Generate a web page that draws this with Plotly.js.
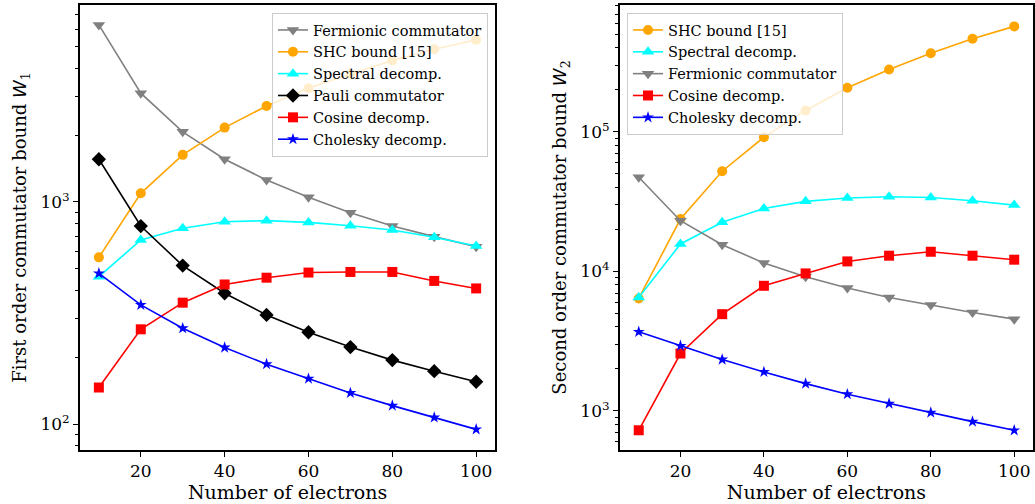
<!DOCTYPE html>
<html><head><meta charset="utf-8">
<script src="https://cdn.plot.ly/plotly-3.0.1.min.js"></script>
<style>html,body{margin:0;padding:0;background:#fff}</style>
</head><body><div id="chart" style="width:1035px;height:504px"></div>
<script>
const electrons = [10,20,30,40,50,60,70,80,90,100];

// First-order bound W1
const w1Fermionic = [6270,3090,2070,1557,1256,1050,895,779,698,629];
const w1SHC       = [563,1094,1630,2162,2704,3253,3773,4335,4875,5370];
const w1Spectral  = [461,674,761,815,824,809,782,748,693,634];
const w1Pauli     = [1557,779,517,388,310,259,222,194,173,155];
const w1Cosine    = [146,267,352,425,456,481,484,484,441,408];
const w1Cholesky  = [477,344,270,221,186,160,138,121,107,94.6];

// Second-order bound W2
const w2SHC       = [6400,23750,52300,91700,142600,207500,280500,367000,466000,571000];
const w2Spectral  = [6500,15730,22500,28300,31800,33600,34300,33900,32100,29900];
const w2Fermionic = [47300,23100,15550,11490,9170,7600,6510,5740,5080,4550];
const w2Cosine    = [727,2580,4940,7890,9680,11800,12970,13840,12970,12140];
const w2Cholesky  = [3690,2925,2335,1904,1570,1318,1129,973,838,726];

const xTicks = [20,40,60,80,100];
const y1MajorVals = [100,1000];
const y1MajorText = ['10<sup>2</sup>','10<sup>3</sup>'];
const y2MajorVals = [1000,10000,100000];
const y2MajorText = ['10<sup>3</sup>','10<sup>4</sup>','10<sup>5</sup>'];

function minorTicks(lo, hi){
  const out=[];
  for(let e=lo;e<=hi;e++){ for(let d=2;d<=9;d++){ out.push(d*Math.pow(10,e)); } }
  return out;
}

const FONT = 'DejaVu Serif, serif';
function tr(x,y,name,color,symbol,size,xa,ya,leg){
  return {x:x,y:y,name:name,type:'scatter',mode:'lines+markers',xaxis:xa,yaxis:ya,legend:leg,
    line:{color:color,width:1.6},marker:{color:color,symbol:symbol,size:size}};
}

const data = [
  tr(electrons,w1Fermionic,'Fermionic commutator','#808080','triangle-down',11,'x','y','legend'),
  tr(electrons,w1SHC,'SHC bound [15]','#FFA500','circle',10,'x','y','legend'),
  tr(electrons,w1Spectral,'Spectral decomp.','#00FFFF','triangle-up',11,'x','y','legend'),
  tr(electrons,w1Pauli,'Pauli commutator','#000000','diamond',11,'x','y','legend'),
  tr(electrons,w1Cosine,'Cosine decomp.','#FF0000','square',10,'x','y','legend'),
  tr(electrons,w1Cholesky,'Cholesky decomp.','#0000FF','star',9,'x','y','legend'),
  tr(electrons,w2SHC,'SHC bound [15]','#FFA500','circle',10,'x2','y2','legend2'),
  tr(electrons,w2Spectral,'Spectral decomp.','#00FFFF','triangle-up',11,'x2','y2','legend2'),
  tr(electrons,w2Fermionic,'Fermionic commutator','#808080','triangle-down',11,'x2','y2','legend2'),
  tr(electrons,w2Cosine,'Cosine decomp.','#FF0000','square',10,'x2','y2','legend2'),
  tr(electrons,w2Cholesky,'Cholesky decomp.','#0000FF','star',9,'x2','y2','legend2')
];

const tickFont = {family:FONT,size:17,color:'#000'};
const xTitleFont = {family:FONT,size:19,color:'#000'};
const yTitleFont = {family:FONT,size:18,color:'#000'};
function xaxis(domain, anchor){
  return {domain:domain,anchor:anchor,range:[5.5,104.5],tickmode:'array',tickvals:xTicks,
    ticks:'outside',ticklen:5,tickwidth:1,tickcolor:'#000',showline:true,linecolor:'#000',linewidth:2,
    mirror:true,showgrid:false,zeroline:false,tickfont:tickFont,
    title:{text:'Number of electrons',font:xTitleFont,standoff:3}};
}
function yaxis(range,vals,text,minor,title,anchor,standoff){
  return {type:'log',range:range,anchor:anchor,tickmode:'array',tickvals:vals,ticktext:text,
    ticks:'outside',ticklen:5,tickwidth:1,tickcolor:'#000',showline:true,linecolor:'#000',linewidth:2,
    mirror:true,showgrid:false,zeroline:false,tickfont:tickFont,
    minor:{tickmode:'array',tickvals:minor,ticks:'outside',ticklen:3,tickwidth:1,tickcolor:'#000',showgrid:false},
    title:{text:title,font:yTitleFont,standoff:standoff}};
}
const W = '<span style="font-family:DejaVu Sans"><i>W</i></span>';
const legFont = {family:FONT,size:14.5,color:'#000'};
const layout = {
  width:1035,height:504,paper_bgcolor:'#fff',plot_bgcolor:'#fff',
  margin:{l:80,r:2,t:5,b:54},
  showlegend:true,
  xaxis:xaxis([0,0.4355],'y'),
  xaxis2:xaxis([0.5666,1],'y2'),
  yaxis:yaxis([1.883,3.887],y1MajorVals,y1MajorText,minorTicks(1,3),'First order commutator bound '+W+'<sub>1</sub>','x',9),
  yaxis2:yaxis([2.72,5.91],y2MajorVals,y2MajorText,minorTicks(2,5),'Second order commutator bound '+W+'<sub>2</sub>','x2',9),
  legend:{x:0.4281,xanchor:'right',y:0.982,yanchor:'top',bgcolor:'rgba(255,255,255,0.8)',bordercolor:'#cccccc',borderwidth:1,font:legFont,tracegroupgap:0},
  legend2:{x:0.574,xanchor:'left',y:0.982,yanchor:'top',bgcolor:'rgba(255,255,255,0.8)',bordercolor:'#cccccc',borderwidth:1,font:legFont,tracegroupgap:0}
};
Plotly.newPlot('chart',data,layout,{displayModeBar:false,staticPlot:true});
</script>
</body></html>
